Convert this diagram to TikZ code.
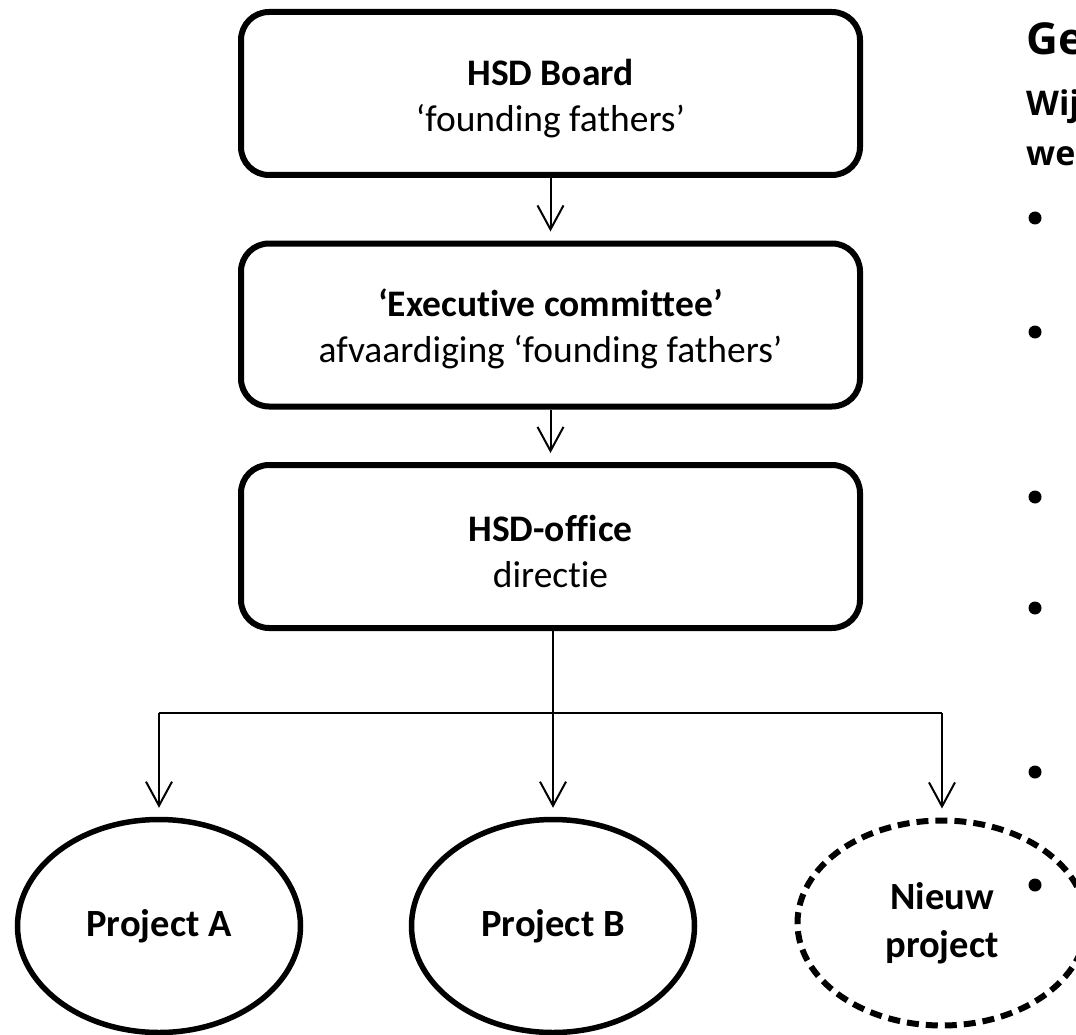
\documentclass[tikz,border=0pt]{standalone}
\usepackage{fontspec}
\setmainfont{Carlito}[Ligatures=NoCommon]
\newfontfamily\rfont{Open Sans}
\usetikzlibrary{shapes.geometric,arrows.meta}
\newcommand{\tallstrut}{\rule{0pt}{36pt}}
\begin{document}
\begin{tikzpicture}[x=1pt,y=-1pt,
  box/.style={draw,line width=6pt,rounded corners=28pt,minimum width=619pt,minimum height=163pt,inner sep=0pt,align=center,font=\fontsize{37.5}{46}\selectfont},
  proj/.style={draw,ellipse,line width=5.5pt,minimum width=283pt,minimum height=213pt,inner sep=0pt,align=center,font=\fontsize{38.5}{48}\selectfont\bfseries},
  conn/.style={line width=2pt,-{Straight Barb[length=24pt,width=26pt,line width=2pt]},shorten >=9pt},
  plain/.style={line width=2pt},
  bullet/.style={circle,fill=black,inner sep=0pt,minimum size=13pt},
  rtext/.style={anchor=base west,inner sep=0pt}]
\useasboundingbox (0,0) rectangle (1076,1035);
\clip (0,0) rectangle (1076,1035);
\fill[white] (0,0) rectangle (1076,1035);

\node[box] (board) at (550.5,93.5) {\tallstrut\textbf{HSD Board}\\‘founding fathers’};
\node[box] (exec) at (550.5,325) {\tallstrut\textbf{‘Executive committee’}\\afvaardiging ‘founding fathers’};
\node[box] (office) at (550.5,546.5) {\tallstrut\textbf{HSD-office}\\directie};

\node[proj] (pa) at (159,926) {Project A};
\node[proj] (pb) at (553,926) {Project B};
\node[proj,line width=6pt,dash pattern=on 12pt off 7pt,minimum width=289pt,minimum height=205pt] (pc) at (942,923) {Nieuw\\project};

\draw[conn] (board) -- (exec);
\draw[conn] (exec) -- (office);
\draw[conn] (office.south -| pb.north) -- (pb.north);
\coordinate (hl) at (159,713);
\coordinate (hr) at (942,713);
\draw[plain] (hl) -- (hr);
\draw[conn] (hl) -- (pa.north);
\draw[conn] (hr) -- (pc.north);

\node[rtext,font=\rfont\bfseries\fontsize{44}{44}\selectfont] (t1) at (1026,55) {Ge};
\node[rtext,font=\rfont\bfseries\fontsize{34}{34}\selectfont] (t2) at (1026,116) {Wij};
\node[rtext,font=\rfont\bfseries\fontsize{34}{34}\selectfont] (t3) at (1026,166) {we};
\foreach \i/\y in {1/218,2/332,3/497,4/608,5/772,6/885}
  \node[bullet] (b\i) at (1035,\y) {};
\end{tikzpicture}
\end{document}
